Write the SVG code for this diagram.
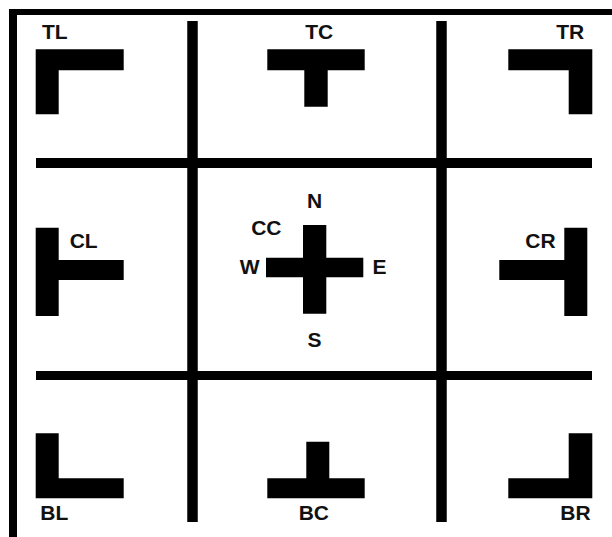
<svg xmlns="http://www.w3.org/2000/svg" width="612" height="537" viewBox="0 0 612 537">
<style>
.bar{fill:#000}
.lbl{font-family:"Liberation Sans",Arial,sans-serif;font-weight:bold;font-size:21px;fill:#111;text-anchor:middle}
.grid{stroke:#000;fill:none}
</style>
<rect width="612" height="537" fill="#fff"/>
<g id="grid">
<line class="grid" x1="9" y1="12" x2="612" y2="12" stroke-width="6"/>
<line class="grid" x1="13" y1="9" x2="13" y2="537" stroke-width="8"/>
<line class="grid" x1="192.5" y1="21" x2="192.5" y2="522" stroke-width="10.5"/>
<line class="grid" x1="441.5" y1="21" x2="441.5" y2="522" stroke-width="10.5"/>
<line class="grid" x1="36" y1="163" x2="592" y2="163" stroke-width="10"/>
<line class="grid" x1="36" y1="375.5" x2="592" y2="375.5" stroke-width="9"/>
</g>
<g id="TL">
<polygon class="bar" points="35.7,49.3 123.7,49.3 123.7,70.3 58.7,70.3 58.7,114.3 35.7,114.3"/>
<text class="lbl" x="54.8" y="39">TL</text>
</g>
<g id="TC">
<polygon class="bar" points="267.3,49.3 364.7,49.3 364.7,70.3 327.7,70.3 327.7,106.7 304.3,106.7 304.3,70.3 267.3,70.3"/>
<text class="lbl" x="319.3" y="39">TC</text>
</g>
<g id="TR">
<polygon class="bar" points="508.3,49.3 592.3,49.3 592.3,114.3 568.7,114.3 568.7,70.3 508.3,70.3"/>
<text class="lbl" x="570.3" y="39">TR</text>
</g>
<g id="CL">
<polygon class="bar" points="35.7,227.7 58.7,227.7 58.7,260 123.7,260 123.7,280 58.7,280 58.7,316 35.7,316"/>
<text class="lbl" x="83.7" y="248.3">CL</text>
</g>
<g id="CC">
<polygon class="bar" points="303,225 326.3,225 326.3,257.7 363.3,257.7 363.3,277.3 326.3,277.3 326.3,313.7 303,313.7 303,277.3 266,277.3 266,257.7 303,257.7"/>
<text class="lbl" x="266.3" y="235">CC</text>
<text class="lbl" x="314.7" y="208.3">N</text>
<text class="lbl" x="249.7" y="274.3">W</text>
<text class="lbl" x="379.5" y="274.3">E</text>
<text class="lbl" x="314.5" y="346.7">S</text>
</g>
<g id="CR">
<polygon class="bar" points="564.3,227.7 587.3,227.7 587.3,316 564.3,316 564.3,280 499.3,280 499.3,260 564.3,260"/>
<text class="lbl" x="540.5" y="248.3">CR</text>
</g>
<g id="BL">
<polygon class="bar" points="35.7,433.3 58.7,433.3 58.7,478.3 123.7,478.3 123.7,498.3 35.7,498.3"/>
<text class="lbl" x="54.3" y="520">BL</text>
</g>
<g id="BC">
<polygon class="bar" points="306.3,441.7 329.3,441.7 329.3,478.3 364.7,478.3 364.7,498.3 267.3,498.3 267.3,478.3 306.3,478.3"/>
<text class="lbl" x="313.8" y="520">BC</text>
</g>
<g id="BR">
<polygon class="bar" points="568.7,433.3 592.3,433.3 592.3,498.3 508.3,498.3 508.3,478.3 568.7,478.3"/>
<text class="lbl" x="575.5" y="520">BR</text>
</g>
</svg>
